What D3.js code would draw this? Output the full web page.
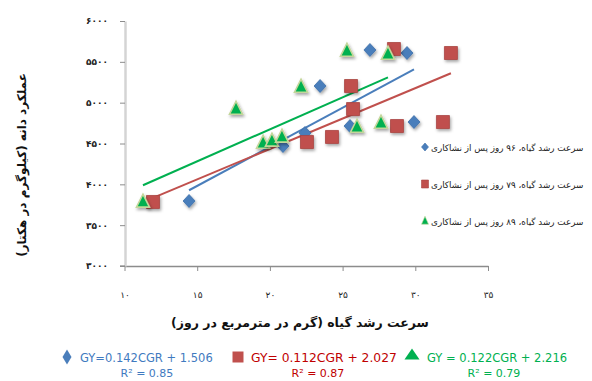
<!DOCTYPE html>
<html>
<head>
<meta charset="utf-8">
<script src="https://cdn.jsdelivr.net/npm/d3@7"></script>
<style>
  html, body { margin: 0; padding: 0; background: #fff; }
  svg { display: block; }
  text { font-family: "DejaVu Sans", sans-serif; }
</style>
</head>
<body>
<svg id="chart" width="592" height="381"></svg>
<script>
// ---- data ----
const blueX  = [14.44, 20.90, 22.41, 23.45, 25.51, 26.88, 29.43, 29.91];
const blueY  = [3796, 4469, 4628, 5204, 4714, 5645, 5608, 4763];
const redX   = [11.96, 22.55, 24.27, 25.58, 25.72, 28.53, 28.74, 31.90, 32.45];
const redY   = [3784, 4518, 4580, 5204, 4922, 5657, 4714, 4763, 5608];
const greenX = [11.27, 17.67, 19.53, 20.14, 20.83, 22.14, 25.30, 28.12, 25.99, 27.64];
const greenY = [3784, 4922, 4506, 4531, 4580, 5192, 5632, 5596, 4702, 4751];

const xTicks = [10, 15, 20, 25, 30, 35];
const yTicks = [3000, 3500, 4000, 4500, 5000, 5500, 6000];

const seriesNames = [
  "سرعت رشد گیاه، ۹۶ روز پس از نشاکاری",
  "سرعت رشد گیاه، ۷۹ روز پس از نشاکاری",
  "سرعت رشد گیاه، ۸۹ روز پس از نشاکاری"
];
const equations = ["GY=0.142CGR + 1.506", "GY= 0.112CGR + 2.027", "GY = 0.122CGR + 2.216"];
const rSquared  = ["R² = 0.85", "R² = 0.87", "R² = 0.79"];
const xTitle = "سرعت رشد گیاه  (گرم در مترمربع در روز)";
const yTitle = "عملکرد دانه (کیلوگرم در هکتار)";

// ---- helpers ----
const faDigits = "۰۱۲۳۴۵۶۷۸۹";
const toFa = v => String(v).replace(/[0-9]/g, d => faDigits[+d]);

const svg = d3.select("#chart");
const defs = svg.append("defs");
const f = defs.append("filter").attr("id", "sh").attr("x", "-50%").attr("y", "-50%").attr("width", "200%").attr("height", "200%");
f.append("feDropShadow").attr("dx", 1.2).attr("dy", 2).attr("stdDeviation", 1.4)
  .attr("flood-color", "#000").attr("flood-opacity", 0.35);

const x = d3.scaleLinear().domain([10, 35]).range([124.5, 488]);
const y = d3.scaleLinear().domain([3000, 6000]).range([266, 21]);

// ---- axes ----
const gx = svg.append("g").attr("transform", "translate(0,266)")
  .call(d3.axisBottom(x).tickValues(xTicks).tickSize(5).tickSizeOuter(0).tickFormat(toFa).tickPadding(27));
gx.select(".domain").attr("stroke", "#8c8c8c").attr("stroke-width", 1.3);
gx.selectAll(".tick line").attr("stroke", "#8c8c8c");
gx.selectAll(".tick text").attr("font-size", 9).attr("fill", "#222").attr("dy", "0");

const gy = svg.append("g").attr("transform", "translate(125,0)")
  .call(d3.axisLeft(y).tickValues(yTicks).tickSize(5).tickSizeOuter(0).tickFormat(toFa).tickPadding(12));
gy.select(".domain").attr("stroke", "#d4d4d4").attr("stroke-width", 2.5);
gy.selectAll(".tick line").attr("stroke", "#8c8c8c");
gy.selectAll(".tick text").attr("font-size", 9).attr("fill", "#222").attr("font-weight", "bold");
svg.append("line").attr("x1", 120).attr("x2", 125).attr("y1", 266).attr("y2", 266)
  .attr("stroke", "#8c8c8c").attr("stroke-width", 1.3);

// ---- titles ----
svg.append("text").attr("x", 300).attr("y", 327).attr("text-anchor", "middle")
  .attr("direction", "rtl").attr("font-size", 12.5).attr("font-weight", "bold").attr("fill", "#111")
  .text(xTitle);
svg.append("text").attr("transform", "translate(26,165) rotate(-90)").attr("text-anchor", "middle")
  .attr("direction", "rtl").attr("font-size", 12).attr("font-weight", "bold").attr("fill", "#111")
  .text(yTitle);

// ---- marker shapes ----
const shapes = {
  diamond: (w, h) => `M0,${-h/2}L${w/2},0L0,${h/2}L${-w/2},0Z`,
  square:  (w, h) => `M${-w/2},${-h/2}H${w/2}V${h/2}H${-w/2}Z`,
  triangle:(w, h) => `M0,${-h*0.6}L${w/2},${h*0.4}L${-w/2},${h*0.4}Z`
};
const series = [
  {xs: blueX,  ys: blueY,  shape: "diamond",  fill: "#4a7ebb", stroke: "#3d6fa8", line: "#4a7ebb", w: 12, h: 13, text: "#3f7ac0", fs: 11.5},
  {xs: redX,   ys: redY,   shape: "square",   fill: "#c0504d", stroke: "#a84441", line: "#c0504d", w: 13, h: 13, text: "#c00000", fs: 12.3},
  {xs: greenX, ys: greenY, shape: "triangle", fill: "#00b050", stroke: "#c4d79b", line: "#00b050", w: 13, h: 13, text: "#00b050", fs: 11.5}
];

// ---- trendlines (least squares over each series) ----
series.forEach(s => {
  const n = s.xs.length;
  const mx = d3.mean(s.xs), my = d3.mean(s.ys);
  let sxy = 0, sxx = 0;
  for (let i = 0; i < n; i++) { sxy += (s.xs[i]-mx)*(s.ys[i]-my); sxx += (s.xs[i]-mx)**2; }
  const b = sxy / sxx, a = my - b*mx;
  const x0 = d3.min(s.xs), x1 = d3.max(s.xs);
  svg.append("line").attr("x1", x(x0)).attr("y1", y(a + b*x0)).attr("x2", x(x1)).attr("y2", y(a + b*x1))
    .attr("stroke", s.line).attr("stroke-width", 2);
});

// ---- points ----
series.forEach(s => {
  svg.append("g").selectAll("path").data(s.xs.map((v, i) => [v, s.ys[i]])).join("path")
    .attr("transform", d => `translate(${x(d[0])},${y(d[1])})`)
    .attr("d", shapes[s.shape](s.w, s.h))
    .attr("fill", s.fill).attr("stroke", s.stroke).attr("stroke-width", s.shape === "triangle" ? 1.6 : 0.8)
    .attr("filter", "url(#sh)");
});

// ---- legend (right) ----
const legY = [147, 184, 221];
series.forEach((s, i) => {
  svg.append("path").attr("transform", `translate(425,${legY[i]})`)
    .attr("d", shapes[s.shape](7, 8)).attr("fill", s.fill).attr("stroke", s.stroke).attr("stroke-width", 0.6);
  svg.append("text").attr("x", 431).attr("y", legY[i] + 3.5).attr("text-anchor", "end")
    .attr("direction", "rtl").attr("font-size", 8.8).attr("fill", "#222").text(seriesNames[i]);
});

// ---- equations (bottom) ----
const eqMarkX = [67, 238, 412];
const eqTextX = [80, 251, 427];
const eqCenter = [147, 318, 494];
const eqMarkSize = [[9, 15], [11, 11], [15, 11]];
series.forEach((s, i) => {
  svg.append("path").attr("transform", `translate(${eqMarkX[i]},${i === 2 ? 355 : 357})`)
    .attr("d", shapes[s.shape](eqMarkSize[i][0], eqMarkSize[i][1])).attr("fill", s.fill).attr("stroke", "none");
  svg.append("text").attr("x", eqTextX[i]).attr("y", 362).attr("font-family", "Liberation Sans, sans-serif")
    .attr("font-size", s.fs).attr("fill", s.text).text(equations[i]);
  svg.append("text").attr("x", eqCenter[i]).attr("y", 376.5).attr("text-anchor", "middle")
    .attr("font-family", "Liberation Sans, sans-serif").attr("font-size", 11).attr("fill", s.text).text(rSquared[i]);
});
</script>
</body>
</html>
